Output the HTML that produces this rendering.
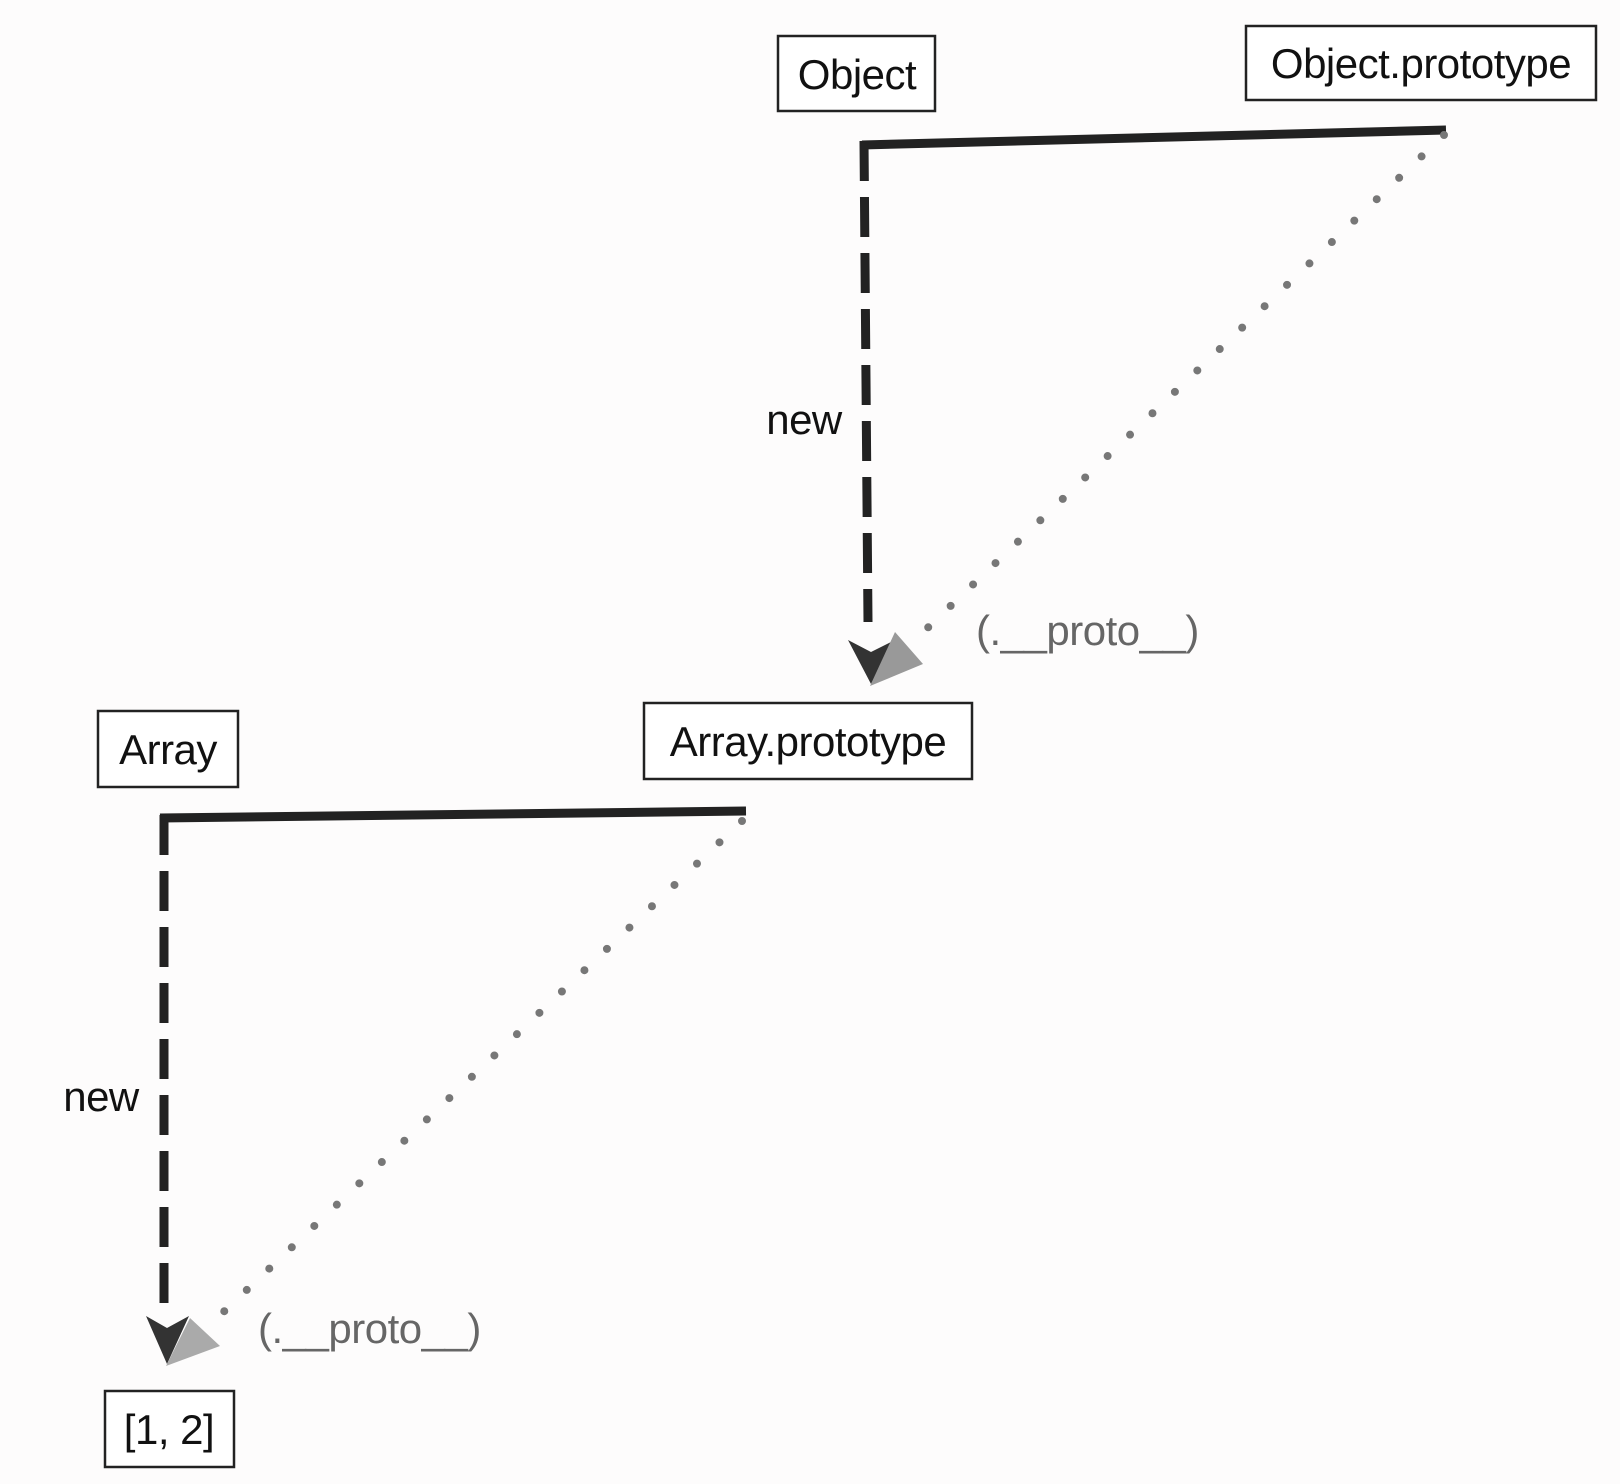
<!DOCTYPE html>
<html><head><meta charset="utf-8"><style>
body{margin:0;background:#fdfcfc;}
svg{display:block}
text{font-family:"Liberation Sans",Arial,sans-serif;}
</style></head><body>
<svg width="1620" height="1484" viewBox="0 0 1620 1484" xmlns="http://www.w3.org/2000/svg">
<g fill="#fff" stroke="#222" stroke-width="2.5">
<rect x="778" y="36" width="157" height="75"/>
<rect x="1246" y="26" width="350" height="74"/>
<rect x="98" y="711" width="140" height="76"/>
<rect x="644" y="703" width="328" height="76"/>
<rect x="105" y="1391" width="129" height="76"/>
</g>
<g fill="#111" font-size="42" text-anchor="middle">
<text x="857" y="89" letter-spacing="-0.5">Object</text>
<text x="1421" y="78" letter-spacing="-0.5">Object.prototype</text>
<text x="168" y="764" letter-spacing="-0.5">Array</text>
<text x="808" y="756" letter-spacing="-0.5">Array.prototype</text>
<text x="169" y="1444" letter-spacing="-0.5">[1, 2]</text>
<text x="804" y="434" letter-spacing="-0.5">new</text>
<text x="101" y="1111" letter-spacing="-0.5">new</text>
</g>
<g fill="#666" font-size="42">
<text x="976" y="645" letter-spacing="-0.5">(.__proto__)</text>
<text x="258" y="1343" letter-spacing="-0.5">(.__proto__)</text>
</g>
<path d="M862 145 L1446 130" stroke="#222" stroke-width="9" fill="none"/>
<path d="M864 141 L868 622" stroke="#222" stroke-width="9" fill="none" stroke-dasharray="40 16"/>
<path d="M1444 135 L917 638" stroke="#777" stroke-width="8" stroke-linecap="round" fill="none" stroke-dasharray="0 31"/>
<polygon points="848,640 871,652 895,640 871,684" fill="#333"/>
<polygon points="870,686 895,632 923,664" fill="#999"/>
<path d="M160 818 L746 811" stroke="#222" stroke-width="9" fill="none"/>
<path d="M164 815 L164 1310" stroke="#222" stroke-width="9" fill="none" stroke-dasharray="40 16"/>
<path d="M742 821 L215 1320" stroke="#777" stroke-width="8" stroke-linecap="round" fill="none" stroke-dasharray="0 31"/>
<polygon points="146,1316 167,1328 189,1316 167,1364" fill="#333"/>
<polygon points="166,1366 190,1318 220,1346" fill="#aaa"/>
</svg>
</body></html>
